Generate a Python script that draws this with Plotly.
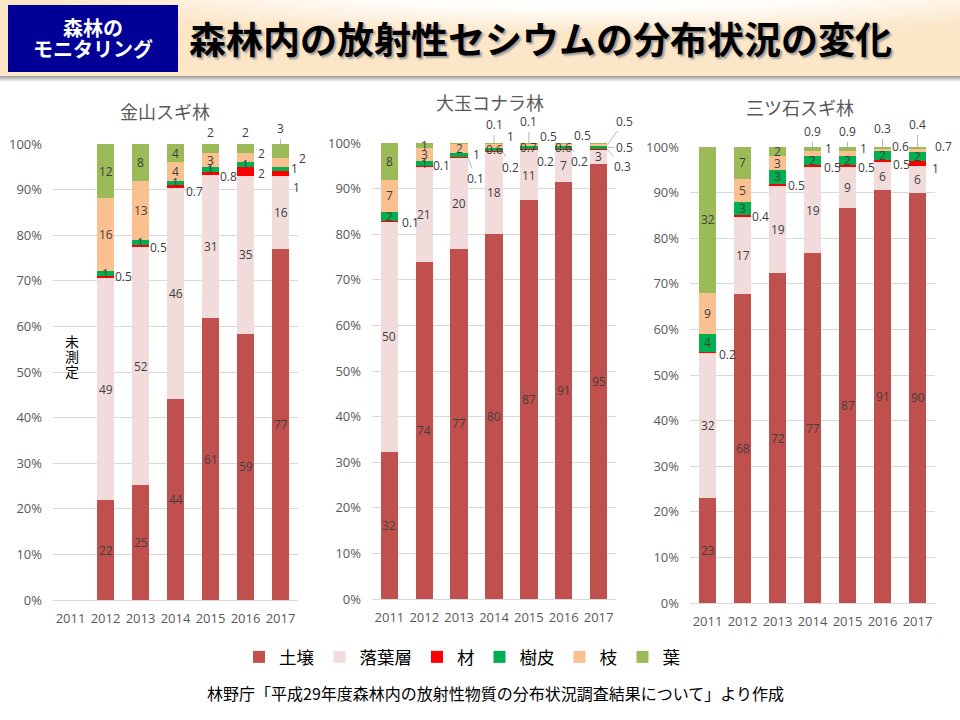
import base64
import plotly.graph_objects as go

# ---------------- data ----------------
years = ['2011', '2012', '2013', '2014', '2015', '2016', '2017']
series_names = ['土壌', '落葉層', '材', '樹皮', '枝', '葉']
series_colors = ['#C0504D', '#F2DCDB', '#FF0000', '#00B050', '#FAC090', '#9BBB59']
site_titles = ['金山スギ林', '大玉コナラ林', '三ツ石スギ林']

# 金山スギ林 (2011: not measured)
kanayama_soil = [None, 22, 25, 44, 61, 59, 77]
kanayama_litter = [None, 49, 52, 46, 31, 35, 16]
kanayama_wood = [None, 0.5, 0.5, 0.7, 0.8, 2, 1]
kanayama_bark = [None, 1, 1, 1, 1, 1, 1]
kanayama_branch = [None, 16, 13, 4, 3, 2, 2]
kanayama_leaf = [None, 12, 8, 4, 2, 2, 3]

# 大玉コナラ林
ohtama_soil = [32, 74, 77, 80, 87, 91, 95]
ohtama_litter = [50, 21, 20, 18, 11, 7, 3]
ohtama_wood = [0.1, 0.1, 0.1, 0.2, 0.2, 0.2, 0.3]
ohtama_bark = [2, 1, 1, 0.6, 0.7, 0.6, 0.5]
ohtama_branch = [7, 3, 2, 1, 0.5, 0.5, 0.5]
ohtama_leaf = [8, 1, 0.1, 0.1, 0.1, 0.1, 0.2]

# 三ツ石スギ林
mitsuishi_soil = [23, 68, 72, 77, 87, 91, 90]
mitsuishi_litter = [32, 17, 19, 19, 9, 6, 6]
mitsuishi_wood = [0.2, 0.4, 0.5, 0.5, 0.5, 0.5, 1]
mitsuishi_bark = [4, 3, 3, 2, 2, 2, 2]
mitsuishi_branch = [9, 5, 3, 1, 1, 0.6, 0.7]
mitsuishi_leaf = [32, 7, 2, 0.9, 0.9, 0.3, 0.4]

not_measured_text = ['未', '測', '定']
main_title = '森林内の放射性セシウムの分布状況の変化'
badge_lines = ['森林の', 'モニタリング']
source_text = '林野庁「平成29年度森林内の放射性物質の分布状況調査結果について」より作成'

sites = [
    [kanayama_soil, kanayama_litter, kanayama_wood, kanayama_bark, kanayama_branch, kanayama_leaf],
    [ohtama_soil, ohtama_litter, ohtama_wood, ohtama_bark, ohtama_branch, ohtama_leaf],
    [mitsuishi_soil, mitsuishi_litter, mitsuishi_wood, mitsuishi_bark, mitsuishi_branch, mitsuishi_leaf],
]

# ---------------- label placement (style) ----------------
# (year index, series index) -> placement; default is centred inside the segment
# 'r': right of bar, no leader (xshift, yshift)   'rl': right with leader (ax, ay)
# 't': above bar, no leader (xshift, yshift)      'tl': above with leader (ax, ay)
placements = [
    {(1, 2): ('r', -1, 0), (2, 2): ('r', -1, -2), (3, 2): ('r', 0, -5), (4, 2): ('r', -1, -3),
     (4, 5): ('t', 0, 1), (5, 2): ('r', 2, -2), (5, 4): ('r', 2, 4), (5, 5): ('t', 0, 1),
     (6, 2): ('r', 2, -14), (6, 3): ('r', 0, 1), (6, 4): ('r', 8, 4), (6, 5): ('tl', 0, -15)},
    {(0, 2): ('r', 2, -1), (1, 2): ('r', -2, 0), (2, 2): ('rl', 8, 21), (2, 3): ('r', 3, 0),
     (2, 5): ('tl', 0, -21), (3, 2): ('rl', 8, 16), (3, 4): ('r', 2, 9), (3, 5): ('tl', 0, -18),
     (4, 2): ('rl', 8, 12), (4, 4): ('r', 0, 8), (4, 5): ('tl', 0, -21), (5, 2): ('rl', 7, 13),
     (5, 4): ('r', 0, 9), (5, 5): ('tl', 0, -19), (6, 2): ('rl', 15, 17), (6, 3): ('rl', 17, 0),
     (6, 4): ('rl', 17, -24), (6, 5): ('tl', 0, -22)},
    {(0, 2): ('r', 1, -2), (1, 2): ('r', -1, 0), (2, 2): ('r', 0, -1), (3, 2): ('r', 1, -2),
     (3, 4): ('r', 2, 5), (3, 5): ('tl', 0, -15), (4, 2): ('r', 0, -2), (4, 4): ('r', 2, 5),
     (4, 5): ('tl', 0, -15), (5, 2): ('r', 0, -3), (5, 4): ('r', -1, 3), (5, 5): ('tl', 0, -18),
     (6, 2): ('r', 4, -5), (6, 4): ('r', 7, 4), (6, 5): ('tl', 0, -22)},
]

W, H = 960, 720
def px_x(x):
    return x / W
def px_y(y):
    return 1 - y / H

x_domains = [(53, 298), (372, 616), (690, 935)]
y_domains = [(144, 600), (143, 599), (147, 603)]
title_pos = [(165, 111), (490, 102), (800, 107)]

FONT = 'Open Sans, Noto Sans CJK JP, sans-serif'
JFONT = 'Noto Sans CJK JP, sans-serif'
LABEL_FONT = dict(family=FONT, size=12, color='#404040')
BAR_HALF = 0.25

fig = go.Figure()
annotations = []

def paper_text(text, x, y, font, xanchor='center'):
    return dict(text=text, xref='paper', yref='paper', x=px_x(x), y=px_y(y), xanchor=xanchor,
                yanchor='middle', showarrow=False, font=font)

for p, data in enumerate(sites):
    xa = 'x' if p == 0 else f'x{p + 1}'
    ya = 'y' if p == 0 else f'y{p + 1}'
    # 100% stacked normalisation
    totals = []
    for i in range(len(years)):
        vals = [s[i] for s in data]
        totals.append(None if vals[0] is None else sum(vals))
    pct = [[None if totals[i] is None else s[i] / totals[i] * 100 for i in range(len(years))] for s in data]
    for k, name in enumerate(series_names):
        fig.add_trace(go.Bar(
            x=years, y=pct[k], name=name, marker=dict(color=series_colors[k], line=dict(width=0)),
            xaxis=xa, yaxis=ya, showlegend=(p == 0), legendgroup=name, hoverinfo='skip'))
    # labels
    for i in range(len(years)):
        if totals[i] is None:
            continue
        cum = 0
        for k in range(len(series_names)):
            v = data[k][i]
            h = pct[k][i]
            mid = cum + h / 2
            top = cum + h
            cum = top
            txt = f'{v:g}'
            spec = placements[p].get((i, k))
            base = dict(text=txt, xref=xa, yref=ya, font=LABEL_FONT)
            if spec is None:
                annotations.append(dict(base, x=i, y=mid, showarrow=False, xanchor='center', yanchor='middle'))
            elif spec[0] == 'r':
                annotations.append(dict(base, x=i + BAR_HALF, y=mid, showarrow=False, xanchor='left',
                                        yanchor='middle', xshift=spec[1], yshift=spec[2]))
            elif spec[0] == 't':
                annotations.append(dict(base, x=i, y=top, showarrow=False, xanchor='center',
                                        yanchor='bottom', xshift=spec[1], yshift=spec[2]))
            else:
                ax_x = i + BAR_HALF if spec[0] == 'rl' else i
                ax_y = mid if spec[0] == 'rl' else top
                annotations.append(dict(base, x=ax_x, y=ax_y, showarrow=True, arrowhead=0,
                                        arrowwidth=0.8, arrowcolor='#A6A6A6', standoff=0,
                                        ax=spec[1], ay=spec[2], xanchor='center', yanchor='middle'))
    # subplot title
    annotations.append(paper_text(site_titles[p], title_pos[p][0], title_pos[p][1],
                                  dict(family=JFONT, size=18, color='#595959')))
    fig.update_layout(**{
        ('xaxis' if p == 0 else f'xaxis{p + 1}'): dict(
            domain=[px_x(x_domains[p][0]), px_x(x_domains[p][1])], anchor=ya,
            type='category', categoryorder='array', categoryarray=years, range=[-0.5, 6.5],
            showgrid=False, showline=True, linecolor='#D9D9D9', linewidth=1, ticks='',
            tickfont=dict(family=FONT, size=13, color='#595959'), ticklabelstandoff=6,
            automargin=False, fixedrange=True),
        ('yaxis' if p == 0 else f'yaxis{p + 1}'): dict(
            domain=[px_y(y_domains[p][1]), px_y(y_domains[p][0])], anchor=xa,
            range=[0, 100], dtick=10, ticksuffix='%', showgrid=True, gridcolor='#D9D9D9',
            gridwidth=1, zeroline=False, showline=False, ticks='',
            tickfont=dict(family=FONT, size=13, color='#595959'), ticklabelstandoff=10,
            automargin=False, fixedrange=True),
    })

# 未測定 vertical note
for j, ch in enumerate(not_measured_text):
    annotations.append(paper_text(ch, 72, 341 + 15 * j, dict(family=JFONT, size=14, color='#000000')))

# header
svg = ('<svg xmlns="http://www.w3.org/2000/svg" width="960" height="84" viewBox="0 0 960 84" '
       'preserveAspectRatio="none"><defs>'
       '<radialGradient id="g" cx="0.62" cy="-0.15" r="0.6" fx="0.62" fy="-0.15">'
       '<stop offset="0" stop-color="#FFFFFF"/><stop offset="0.45" stop-color="#FFFDFA"/>'
       '<stop offset="1" stop-color="#FCE6C8"/></radialGradient>'
       '<linearGradient id="s" x1="0" y1="0" x2="0" y2="1">'
       '<stop offset="0" stop-color="#9A9A9A"/><stop offset="1" stop-color="#FFFFFF"/></linearGradient>'
       '</defs><rect x="0" y="0" width="960" height="76" fill="url(#g)"/>'
       '<rect x="0" y="76" width="960" height="6" fill="url(#s)"/></svg>')
svg_uri = 'data:image/svg+xml;base64,' + base64.b64encode(svg.encode('utf-8')).decode('ascii')

shapes = [dict(type='rect', xref='paper', yref='paper', x0=px_x(8), x1=px_x(178), y0=px_y(72), y1=px_y(5),
               fillcolor='#000096', line=dict(width=0), layer='above')]

badge_font = dict(family=JFONT, size=20, color='#FFFFFF', weight='bold')
annotations.append(paper_text(badge_lines[0], 93, 28, badge_font))
annotations.append(paper_text(badge_lines[1], 93, 49, badge_font))
annotations.append(paper_text(main_title, 187, 38,
                              dict(family=JFONT, size=37, color='#000000', weight='bold',
                                   shadow='2px 2px 2px #9a9a9a'), xanchor='left'))
annotations.append(paper_text(source_text, 495, 693, dict(family=JFONT, size=16, color='#000000')))

fig.update_layout(
    width=W, height=H, autosize=False,
    margin=dict(l=0, r=0, t=0, b=0, pad=0, autoexpand=False),
    paper_bgcolor='#FFFFFF', plot_bgcolor='rgba(0,0,0,0)',
    barmode='stack', bargap=0.5,
    showlegend=True,
    legend=dict(orientation='h', x=px_x(462), xanchor='center', y=px_y(657), yanchor='middle',
                font=dict(family=JFONT, size=17.5, color='#000000'), itemwidth=30,
                traceorder='normal', bgcolor='rgba(0,0,0,0)'),
    annotations=annotations,
    shapes=shapes,
    images=[dict(source=svg_uri, xref='paper', yref='paper', x=0, y=1, sizex=1, sizey=84 / H,
                 xanchor='left', yanchor='top', sizing='stretch', layer='below')],
)

fig.write_html('out.html', config={'displayModeBar': False},
               post_script="document.body.style.margin='0';document.body.style.overflow='hidden';")
